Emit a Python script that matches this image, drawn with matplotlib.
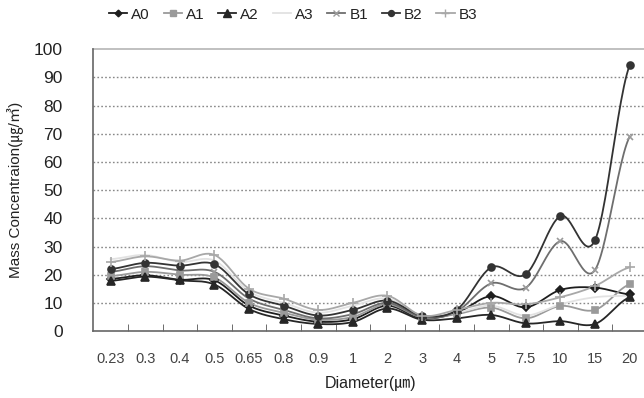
import numpy as np
import matplotlib
matplotlib.use("Agg")
import matplotlib.pyplot as plt
from matplotlib.lines import Line2D

plt.rcParams['font.family'] = ['Liberation Sans', 'Noto Sans CJK KR']

diameters = ["0.23", "0.3", "0.4", "0.5", "0.65", "0.8", "0.9", "1",
             "2", "3", "4", "5", "7.5", "10", "15", "20"]

A0 = [18.5, 19.8, 18.2, 18.0, 9.0, 5.5, 3.3, 4.2, 9.0, 4.5, 6.5, 12.4, 8.4, 14.6, 15.4, 13.0]
A1 = [19.5, 21.0, 20.0, 19.0, 10.0, 6.5, 4.0, 5.0, 9.5, 4.8, 6.0, 8.3, 4.5, 8.9, 7.5, 16.6]
A2 = [17.8, 19.3, 18.0, 16.5, 7.8, 4.2, 2.5, 3.2, 8.0, 4.0, 4.5, 5.7, 2.7, 3.5, 2.5, 12.0]
A3 = [25.5, 27.0, 24.5, 25.0, 14.0, 10.0, 6.5, 9.0, 11.5, 5.3, 6.5, 9.0, 5.5, 9.5, 12.0, 12.5]
B1 = [21.0, 23.0, 21.5, 21.0, 11.5, 7.5, 4.5, 6.0, 10.0, 5.0, 7.0, 16.9, 15.4, 31.9, 21.7, 69.0]
B2 = [22.0, 24.2, 23.2, 23.7, 13.0, 9.0, 5.5, 7.5, 10.8, 5.5, 7.5, 22.6, 20.2, 40.8, 32.3, 94.3]
B3 = [24.5, 26.5, 25.0, 27.0, 15.0, 11.5, 7.5, 10.0, 12.5, 5.5, 7.5, 10.0, 9.5, 12.0, 16.0, 22.6]

series = [
    ("A0", A0, dict(color="#1e1e1e", marker="D", ms=4, mfc="#1e1e1e", mec="#1e1e1e")),
    ("A1", A1, dict(color="#9a9a9a", marker="s", ms=5, mfc="#9a9a9a", mec="#9a9a9a")),
    ("A2", A2, dict(color="#262626", marker="^", ms=6, mfc="#262626", mec="#262626")),
    ("A3", A3, dict(color="#e2e2e2", marker="None", ms=5)),
    ("B1", B1, dict(color="#6e6e6e", marker="x", ms=5, mfc="#6e6e6e", mec="#9a9a9a")),
    ("B2", B2, dict(color="#333333", marker="o", ms=5, mfc="#333333", mec="#333333")),
    ("B3", B3, dict(color="#a8a8a8", marker="+", ms=7, mfc="#a8a8a8", mec="#a8a8a8")),
]


def smooth(xs, ys, n=24):
    """Catmull-Rom curve through the points, like a smoothed line chart."""
    xs = np.asarray(xs, float)
    ys = np.asarray(ys, float)
    px = np.concatenate([[2 * xs[0] - xs[1]], xs, [2 * xs[-1] - xs[-2]]])
    py = np.concatenate([[ys[0]], ys, [ys[-1]]])
    outx, outy = [], []
    t = np.linspace(0, 1, n, endpoint=False)
    for i in range(1, len(px) - 2):
        for arr, out in ((px, outx), (py, outy)):
            p0, p1, p2, p3 = arr[i - 1], arr[i], arr[i + 1], arr[i + 2]
            out.extend(0.5 * ((2 * p1) + (-p0 + p2) * t
                              + (2 * p0 - 5 * p1 + 4 * p2 - p3) * t ** 2
                              + (-p0 + 3 * p1 - 3 * p2 + p3) * t ** 3))
    outx.append(xs[-1])
    outy.append(ys[-1])
    return np.array(outx), np.array(outy)


fig = plt.figure(figsize=(6.44, 3.98), dpi=100)
ax = fig.add_axes([0.145, 0.1683, 0.8596, 0.7078])

x = np.arange(len(diameters))
handles = []
for name, vals, st in series:
    sx, sy = smooth(x, vals)
    ax.plot(sx, sy, color=st["color"], lw=1.3, zorder=3)
    if st["marker"] != "None":
        ax.plot(x, vals, linestyle="none", marker=st["marker"], ms=st["ms"],
                mfc=st.get("mfc"), mec=st.get("mec"), mew=1.2, zorder=4)
    handles.append(Line2D([], [], color=st["color"], lw=1.3, marker=st["marker"],
                          ms=st["ms"] * 0.85, mfc=st.get("mfc"), mec=st.get("mec"), mew=1.0))

ax.set_xlim(-0.5, len(diameters) - 0.5)
ax.set_ylim(0, 100)
ax.set_yticks(np.arange(0, 101, 10))
ax.tick_params(axis="y", length=0, pad=22, labelsize=12.5, labelcolor="#222222")

for v in range(10, 100, 10):
    ax.axhline(v, color="#888888", lw=1.0, ls=(0, (1.2, 1.6)), zorder=1)
ax.axhline(100, color="#b5b5b5", lw=1.2, zorder=1, clip_on=False)

ax.set_xticks(x)
ax.set_xticklabels(diameters)
ax.set_xticks(np.arange(0.5, len(diameters) - 0.5, 1), minor=True)
ax.tick_params(axis="x", which="major", length=0, pad=15, labelsize=10.5, labelcolor="#444444")
ax.tick_params(axis="x", which="minor", direction="in", length=5, color="#555555")

for side in ("top", "right"):
    ax.spines[side].set_visible(False)
for side in ("left", "bottom"):
    ax.spines[side].set_color("#666666")
    ax.spines[side].set_linewidth(1.2)

ax.set_xlabel("Diameter(㎛)", fontsize=11.5, color="#222222", labelpad=7)
ax.set_ylabel("Mass Concentraion(㎍/㎥)", fontsize=11, color="#222222", labelpad=8)

fig.legend(handles, [s[0] for s in series], loc="center", bbox_to_anchor=(0.455, 0.963),
           ncol=7, frameon=False, fontsize=11, handlelength=1.2, handletextpad=0.25,
           columnspacing=0.9, labelcolor="#222222")

fig.savefig("out.png", dpi=100)
